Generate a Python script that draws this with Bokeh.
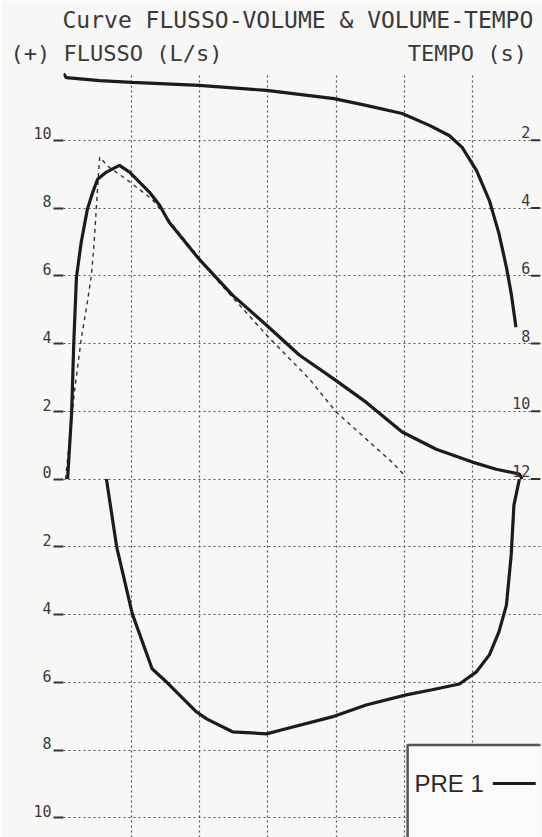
from bokeh.plotting import figure
from bokeh.models import Range1d, Title, FixedTicker, BoxAnnotation, Label, LinearAxis
from bokeh.core.properties import value
from bokeh.embed import file_html
from bokeh.resources import INLINE

# ---- data ----
# Expiratory flow-volume loop (volume L, flow L/s)
exp_vol = [0.06, 0.12, 0.15, 0.19, 0.26, 0.35, 0.43, 0.50, 0.63, 0.82, 0.97, 1.26, 1.41, 1.55,
           1.99, 2.48, 2.98, 3.46, 3.97, 4.44, 4.97, 5.47, 6.00, 6.35, 6.69, 6.73]
exp_flow = [0.0, 1.98, 3.98, 5.96, 6.99, 7.96, 8.47, 8.85, 9.06, 9.26, 9.06, 8.47, 8.08, 7.58,
            6.49, 5.43, 4.54, 3.66, 2.95, 2.27, 1.39, 0.88, 0.50, 0.29, 0.15, 0.0]
# Inspiratory limb (flow shown downward, as negative values)
insp_vol = [0.63, 0.78, 1.01, 1.30, 1.48, 1.95, 2.10, 2.48, 2.98, 3.21, 3.94, 4.44, 5.03,
            5.41, 5.81, 6.06, 6.25, 6.39, 6.50, 6.57, 6.61, 6.69]
insp_flow = [0.0, -2.0, -3.98, -5.6, -5.93, -6.87, -7.08, -7.46, -7.52, -7.40, -7.02, -6.67,
             -6.37, -6.22, -6.05, -5.69, -5.19, -4.51, -3.72, -2.24, -0.77, 0.0]
# Predicted curve (dashed)
pred_vol = [0.03, 0.16, 0.26, 0.35, 0.41, 0.45, 0.48, 0.53, 0.67, 0.92, 1.30, 2.24, 2.98,
            3.61, 4.00, 4.82, 5.00]
pred_flow = [0.0, 2.57, 4.13, 5.22, 6.02, 6.99, 7.96, 9.50, 9.20, 8.85, 8.26, 5.90, 4.25,
             2.95, 1.98, 0.50, 0.12]
# Volume-time curve (volume L, time s; time runs downward on the right scale)
vt_vol = [0.0, 0.04, 0.53, 1.01, 1.99, 2.98, 3.97, 4.44, 4.97, 5.37, 5.66, 5.85, 6.06,
          6.25, 6.39, 6.50, 6.57, 6.64]
vt_time = [0.03, 0.15, 0.24, 0.29, 0.38, 0.53, 0.77, 0.97, 1.21, 1.56, 1.86, 2.21, 2.89,
           3.78, 4.75, 5.75, 6.52, 7.52]

flow_ticks = [-10, -8, -6, -4, -2, 0, 2, 4, 6, 8, 10]
flow_tick_labels = ["10", "8", "6", "4", "2", "0", "2", "4", "6", "8", "10"]
time_ticks = [2, 4, 6, 8, 10, 12]
time_tick_labels = ["2", "4", "6", "8", "10", "12"]
vol_grid = [0, 1, 2, 3, 4, 5, 6, 7]
flow_grid = [-10, -8, -6, -4, -2, 0, 2, 4, 6, 8, 10, 12]

title_text = "Curve FLUSSO-VOLUME & VOLUME-TEMPO"
sub_left = "(+) FLUSSO (L/s)"
sub_right = "TEMPO (s)"
legend_label = "PRE 1"

# ---- styling ----
PAPER = "#f7f7f5"
INK = "#1c1c1c"
TXT = "#3a3a3a"
MONO = "DejaVu Sans Mono"
NBSP = "\u00a0"

FLOW_MIN, FLOW_MAX = -10.58, 12.0
LABEL_LIFT = 0.2   # tick labels sit just above their tick marks

p = figure(width=542, height=837, output_backend="svg", toolbar_location=None, title=None,
           x_range=Range1d(0, 7), y_range=Range1d(FLOW_MIN, FLOW_MAX),
           min_border_left=63, min_border_right=2, min_border_top=72, min_border_bottom=0,
           background_fill_color=PAPER, border_fill_color=PAPER, outline_line_color=None)
p.extra_y_ranges = {"time": Range1d(start=12 - FLOW_MIN, end=12 - FLOW_MAX),
                    "lab": Range1d(start=FLOW_MIN - LABEL_LIFT, end=FLOW_MAX - LABEL_LIFT)}

p.xaxis.visible = False

# inner axis: tick marks only
ax = p.yaxis[0]
ax.ticker = FixedTicker(ticks=flow_ticks)
ax.major_label_overrides = {t: "" for t in flow_ticks}
ax.major_label_text_font_size = "0px"
ax.major_label_standoff = 0
ax.axis_line_color = None
ax.major_tick_out = 10
ax.major_tick_in = 0
ax.major_tick_line_width = 2
ax.major_tick_line_color = "#333"
ax.minor_tick_line_color = None

# outer axis: the labels
ax2 = LinearAxis(y_range_name="lab", ticker=FixedTicker(ticks=flow_ticks),
                 major_label_overrides={t: l for t, l in zip(flow_ticks, flow_tick_labels)},
                 axis_line_color=None, major_tick_line_color=None, minor_tick_line_color=None,
                 major_tick_out=0, major_tick_in=0, major_label_standoff=2,
                 major_label_text_font=MONO, major_label_text_font_size="15px",
                 major_label_text_color=TXT)
p.add_layout(ax2, "left")

p.xgrid.ticker = FixedTicker(ticks=vol_grid)
p.ygrid.ticker = FixedTicker(ticks=flow_grid)
for g in (p.xgrid[0], p.ygrid[0]):
    g.grid_line_color = "#555555"
    g.grid_line_dash = "2 3"
    g.grid_line_width = 1.2

# titles (first added is nearest to the plot)
p.add_layout(Title(text=sub_left + NBSP * 14 + sub_right, align="left", offset=-53,
                   text_font=MONO, text_font_size="22px", text_font_style="normal",
                   text_color=TXT, standoff=13), "above")
p.add_layout(Title(text=title_text, align="left", offset=-1,
                   text_font=MONO, text_font_size="23px", text_font_style="normal",
                   text_color=TXT, standoff=0), "above")

# legend box (drawn as a glyph so the frame clips its far edges)
p.quad(left=5.05, right=7.6, top=-7.85, bottom=-12,
       fill_color="#fbfbfa", line_color="#555", line_width=2.5)

# curves
p.line(pred_vol, pred_flow, line_color="#333", line_width=1.4, line_dash="4 4")
p.line(exp_vol, exp_flow, line_color=INK, line_width=3.2)
p.line(insp_vol, insp_flow, line_color=INK, line_width=3.2)
p.line(vt_vol, vt_time, y_range_name="time", line_color=INK, line_width=3.2)

# right-hand time scale drawn inside the frame
p.segment(x0=6.86, x1=7.0, y0=time_ticks, y1=time_ticks, y_range_name="time",
          line_color="#333", line_width=2)
p.text(x=6.85, y=time_ticks, text=time_tick_labels, y_range_name="time",
       text_align="right", text_baseline="bottom", y_offset=-2,
       text_font=value(MONO), text_font_size="15px", text_color=TXT)

# legend content
p.add_layout(BoxAnnotation(left=6.3, right=6.93, top=-8.94, bottom=-9.03,
                           fill_color=INK, fill_alpha=1.0, line_color=None))
p.add_layout(Label(x=5.15, y=-9.0, text=legend_label, text_baseline="middle",
                   text_font="Liberation Sans", text_font_size="24px", text_color="#2a2a2a"))

open("out.html", "w").write(file_html(p, INLINE))
